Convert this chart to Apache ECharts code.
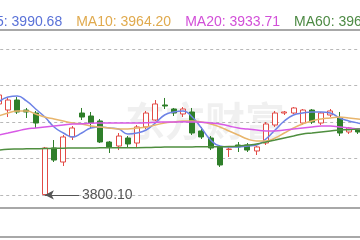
<!DOCTYPE html>
<html><head><meta charset="utf-8">
<style>html,body{margin:0;padding:0;background:#fff;}#c{width:360px;height:240px;}</style>
<script src="https://cdn.jsdelivr.net/npm/echarts@6/dist/echarts.min.js"></script>
</head><body><div id="c"></div>
<script>
var categories = ['08-04','08-05','08-06','08-07','08-08','08-11','08-12','08-13','08-14','08-15','08-18','08-19','08-20','08-21','08-22','08-25','08-26','08-27','08-28','08-29','09-01','09-02','09-03','09-04','09-05','09-08','09-09','09-10','09-11','09-12','09-15','09-16','09-17','09-18','09-19','09-22','09-23','09-24','09-25','09-26','09-29'];
var opens  = [3924.7,3916.4,3930.1,3916.4,3912.3,3800.6,3864.4,3845.2,3879.5,3912.3,3908.2,3901.4,3872.6,3867.1,3878.1,3871.2,3893.2,3902.7,3923.3,3917.8,3911.0,3913.7,3887.7,3878.1,3865.8,3862.3,3868.5,3868.5,3860.3,3871.2,3895.9,3912.3,3912.3,3898.6,3916.4,3898.6,3909.6,3905.5,3886.3,3889.0,3886.0];
var closes = [3937.0,3930.1,3913.7,3913.7,3898.6,3864.4,3847.9,3879.5,3891.8,3906.8,3898.6,3872.6,3865.8,3880.8,3869.9,3893.2,3912.3,3924.7,3921.9,3912.3,3917.8,3884.9,3879.5,3864.4,3841.1,3863.0,3865.8,3861.6,3865.8,3897.3,3912.3,3913.7,3919.2,3916.4,3900.0,3912.3,3915.1,3884.9,3891.8,3886.3,3880.0];
var lows   = [3921.9,3906.8,3911.0,3905.5,3891.8,3800.1,3845.2,3839.7,3875.3,3902.7,3891.8,3871.2,3857.5,3861.6,3864.4,3865.8,3890.4,3901.4,3917.8,3908.2,3906.8,3882.2,3876.7,3861.6,3838.4,3852.1,3858.9,3858.9,3854.8,3868.5,3893.2,3909.6,3911.0,3895.9,3897.3,3895.9,3906.8,3880.8,3883.6,3883.6,3876.0];
var highs  = [3939.7,3932.9,3934.2,3919.2,3915.1,3865.8,3875.3,3882.2,3894.5,3919.2,3913.7,3904.1,3874.0,3884.9,3880.8,3895.9,3915.1,3930.1,3932.9,3919.2,3920.5,3919.2,3893.2,3880.8,3868.5,3865.0,3872.6,3871.2,3867.1,3900.0,3915.1,3915.1,3920.5,3917.8,3917.8,3913.7,3917.8,3913.7,3893.2,3890.4,3890.0];
var ma5  = [3927.4,3934.2,3935.6,3928.8,3917.8,3906.8,3893.2,3884.9,3879.5,3884.9,3891.8,3893.2,3891.8,3890.4,3883.6,3884.9,3889.0,3898.6,3909.6,3913.7,3915.1,3906.8,3891.8,3875.3,3867.1,3865.8,3865.8,3867.1,3868.5,3876.7,3889.0,3901.4,3909.6,3912.3,3913.7,3913.7,3912.3,3905.5,3901.4,3898.6,3895.9];
var ma10 = [3908.2,3912.3,3915.1,3915.1,3911.0,3906.8,3904.1,3901.4,3898.6,3897.3,3894.5,3893.2,3891.8,3890.4,3890.4,3891.8,3893.2,3895.9,3898.6,3900.0,3901.4,3901.4,3900.0,3897.3,3893.2,3887.7,3882.2,3876.7,3874.0,3874.0,3878.1,3884.9,3891.8,3897.3,3901.4,3904.1,3905.5,3906.8,3905.5,3904.1,3902.7];
var ma20 = [3882.2,3884.9,3887.7,3890.4,3891.8,3893.2,3894.5,3895.9,3897.3,3897.5,3898.4,3898.6,3898.7,3898.8,3898.7,3898.6,3898.9,3899.7,3900.0,3900.1,3900.2,3900.0,3899.8,3898.6,3897.3,3894.5,3891.8,3890.4,3889.0,3887.7,3887.6,3889.0,3890.4,3891.8,3893.2,3894.5,3894.4,3893.2,3891.8,3890.4,3889.0];
var ma60 = [3861.6,3862.6,3863.0,3863.2,3863.4,3863.6,3864.0,3864.2,3864.4,3864.5,3864.5,3864.6,3864.6,3864.7,3864.8,3864.8,3864.9,3865.4,3865.6,3865.8,3865.8,3865.9,3866.0,3866.0,3866.1,3866.3,3867.1,3868.5,3869.9,3872.6,3875.3,3878.1,3880.8,3883.6,3884.9,3886.3,3887.7,3889.0,3889.4,3890.4,3890.8];
var maNames = ['MA5','MA10','MA20','MA60'];
var maLegendValues = ['3990.68','3964.20','3933.71','3965.12'];
var lowLabel = '3800.10';
var yMin = 3800, yMax = 4000, yStep = 50;

var lineColors = ['#6d82e6','#e8b56c','#d85ae6','#4f8e3f'];
var textColors = ['#5a72d8','#e0aa4e','#d24fd8','#4d8a44'];
var up = '#e24b46', down = '#2f7f2a';

var candleData = categories.map(function(c,i){ return [opens[i], closes[i], lows[i], highs[i]]; });
var maData = [ma5, ma10, ma20, ma60];

var chart = echarts.init(document.getElementById('c'), null, {renderer:'canvas'});
var series = [{
  type:'candlestick', name:'K', data:candleData, barWidth:'60%', clip:false,
  itemStyle:{color:'#ffffff', color0:down, borderColor:up, borderColor0:down, borderWidth:1},
  markLine:{
    silent:true, symbol:['arrow','none'], symbolSize:[7,9],
    lineStyle:{color:'#555', width:1, type:'solid'},
    label:{show:true, position:'end', formatter:lowLabel, color:'#555', fontSize:14, fontFamily:'Liberation Sans, Arial', distance:3},
    data:[[{coord:[5, 3800.1]}, {x:79, y:195}]]
  }
}];
maNames.forEach(function(n,i){
  series.push({type:'line', name:n, data:maData[i], smooth:true, symbol:'none', clip:false,
    lineStyle:{color:lineColors[i], width:1.5}, itemStyle:{color:lineColors[i]}, z:3});
});
var frameAxisLine = {show:true, onZero:false, lineStyle:{color:'#a8a8a8', width:2}};
chart.setOption({
  animation:false,
  backgroundColor:'#fff',
  legend:{
    left:-35, top:10, width:700, itemWidth:0, itemHeight:14, itemGap:9, icon:'none',
    data: maNames.map(function(n,i){ return {name:n, textStyle:{color:textColors[i]}}; }),
    formatter:function(n){ return n + ': ' + maLegendValues[maNames.indexOf(n)]; },
    textStyle:{fontSize:14, fontFamily:'Liberation Sans, Arial'},
    selectedMode:false
  },
  graphic:[{type:'text', left:125, top:101, z:-10, silent:true,
    style:{text:'东方财富', fontSize:40, fontWeight:'bold', fontFamily:'Noto Sans CJK SC', fill:'rgba(0,0,0,0.06)'}}],
  grid:[
    {left:-5.8, right:-11.8, top:49, bottom:45, outerBoundsMode:'none', containLabel:false},
    {left:-20, right:-20, top:30, bottom:32, outerBoundsMode:'none', containLabel:false},
    {left:-20, right:-20, top:237, height:60, outerBoundsMode:'none', containLabel:false}
  ],
  xAxis:[
    {type:'category', data:categories, boundaryGap:true, axisLine:{show:false}, axisTick:{show:false}, axisLabel:{show:false}, splitLine:{show:false}},
    {type:'category', gridIndex:1, data:['a'], position:'top', axisLine:frameAxisLine, axisTick:{show:false}, axisLabel:{show:false}},
    {type:'category', gridIndex:1, data:['a'], position:'bottom', axisLine:frameAxisLine, axisTick:{show:false}, axisLabel:{show:false}},
    {type:'category', gridIndex:2, data:['a'], position:'top', axisLine:frameAxisLine, axisTick:{show:false}, axisLabel:{show:false}}
  ],
  yAxis:[
    {type:'value', min:yMin, max:yMax, interval:yStep, axisLine:{show:false}, axisTick:{show:false}, axisLabel:{show:false},
     splitLine:{show:true, lineStyle:{color:'#b8b8b8', type:[3,3], width:1}}},
    {type:'value', gridIndex:1, show:false, splitLine:{show:false}},
    {type:'value', gridIndex:2, show:false, splitLine:{show:false}}
  ],
  series:series
});
</script></body></html>
